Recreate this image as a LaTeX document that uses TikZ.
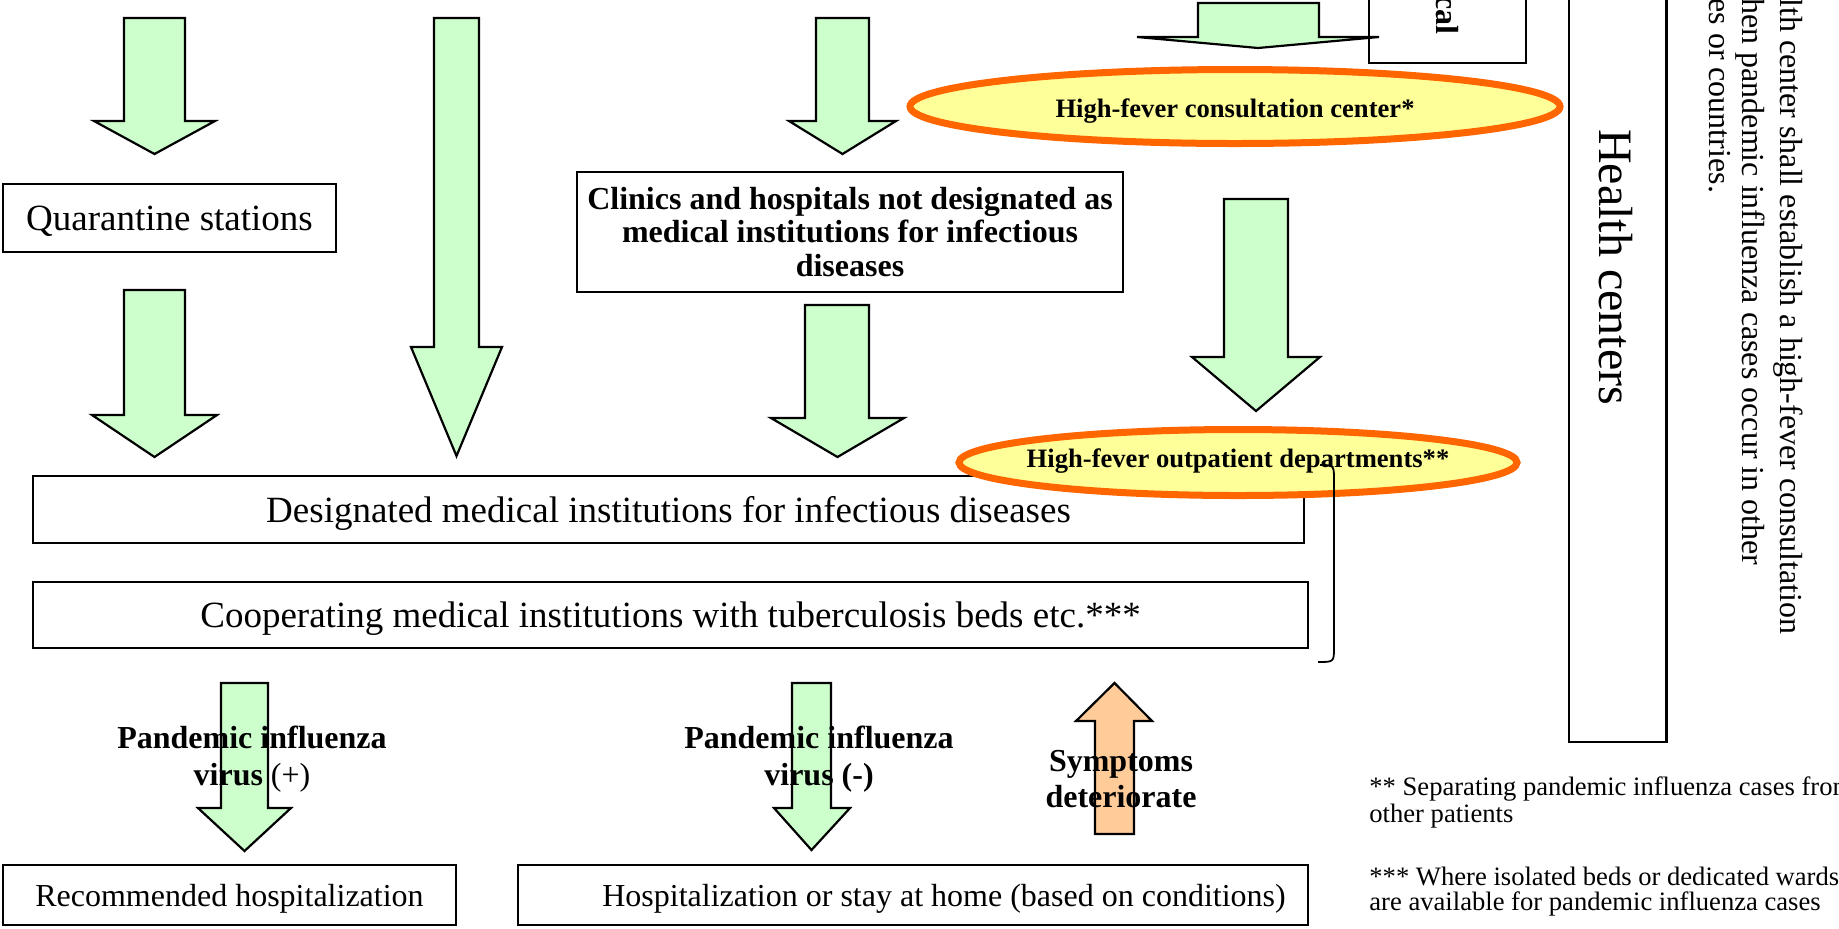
\documentclass[tikz,border=0pt]{standalone}
\usepackage{fontspec}
\setmainfont{Liberation Serif}
\usepackage{tikz}

\begin{document}
\begin{tikzpicture}[x=0.5pt,y=0.5pt,yscale=-1,
  garrow/.style={draw=black,fill={rgb,255:red,204;green,255;blue,204},line width=1.1pt,line join=miter},
  oarrow/.style={draw=black,fill={rgb,255:red,255;green,204;blue,153},line width=1.1pt,line join=miter},
  box/.style={draw=black,line width=1.3pt,inner sep=0pt},
  fever/.style={draw={rgb,255:red,255;green,102;blue,0},fill={rgb,255:red,255;green,255;blue,153},line width=3.5pt},
  big/.style={font=\fontsize{18.5}{22}\selectfont,text depth=0pt},
  mid/.style={font=\fontsize{16}{19}\selectfont,text depth=0pt},
  lbl/.style={font=\bfseries\fontsize{16}{18.3}\selectfont,align=center,inner sep=0pt},
  ftext/.style={font=\bfseries\fontsize{13.3}{16}\selectfont,inner sep=0pt},
  note/.style={font=\fontsize{16}{18}\selectfont,inner sep=0pt},
  foot/.style={font=\fontsize{13.3}{13}\selectfont,inner sep=0pt}]
\useasboundingbox (0,0) rectangle (1839,928);
\clip (0,0) rectangle (1839,928);

%Shape: Down Arrow [id:top1]
\draw [garrow] (124,18) -- (185,18) -- (185,121) -- (215,121) -- (154.5,154) -- (94,121) -- (124,121) -- cycle ;
%Shape: Down Arrow [id:quar2]
\draw [garrow] (124,290) -- (185,290) -- (185,415) -- (217,415) -- (154.5,457) -- (92,415) -- (124,415) -- cycle ;
%Shape: Down Arrow [id:long]
\draw [garrow] (434,18) -- (479,18) -- (479,347) -- (502,347) -- (456.5,456) -- (411,347) -- (434,347) -- cycle ;
%Shape: Down Arrow [id:top2]
\draw [garrow] (816,18) -- (869,18) -- (869,121) -- (896,121) -- (842.5,154) -- (789,121) -- (816,121) -- cycle ;
%Shape: Down Arrow [id:clinic2]
\draw [garrow] (805,305) -- (869,305) -- (869,418) -- (904,418) -- (837.5,457) -- (771,418) -- (805,418) -- cycle ;
%Shape: Down Arrow [id:top3]
\draw [garrow] (1198,3) -- (1319,3) -- (1319,37) -- (1379,37) -- (1258,48) -- (1137,37) -- (1198,37) -- cycle ;
%Shape: Down Arrow [id:consult2]
\draw [garrow] (1224,199) -- (1288,199) -- (1288,357) -- (1320,357) -- (1256,411) -- (1192,357) -- (1224,357) -- cycle ;
%Shape: Down Arrow [id:plus]
\draw [garrow] (221,683) -- (268,683) -- (268,808) -- (291,808) -- (244.5,851) -- (198,808) -- (221,808) -- cycle ;
%Shape: Down Arrow [id:minus]
\draw [garrow] (792,683) -- (831,683) -- (831,808) -- (850,808) -- (811.5,850) -- (774,808) -- (792,808) -- cycle ;
%Shape: Up Arrow [id:worse]
\draw [oarrow] (1095,834) -- (1134,834) -- (1134,721) -- (1152,721) -- (1114.5,683) -- (1076,721) -- (1095,721) -- cycle ;

% Text Node
\draw (169.5,218) node [box,big,minimum width=166.5pt,minimum height=34pt] (quar) {Quarantine stations};
% Text Node
\draw (850,232) node [box,align=center,minimum width=273pt,minimum height=60pt,font=\bfseries\fontsize{16}{16.6}\selectfont] (clinic) {Clinics and hospitals not designated as\\medical institutions for infectious\\diseases};
% Text Node
\draw (668.5,509.5) node [box,big,minimum width=635.5pt,minimum height=33.5pt] (desig) {Designated medical institutions for infectious diseases};
% Text Node
\draw (670.5,615) node [box,big,minimum width=637.5pt,minimum height=33pt] (coop) {Cooperating medical institutions with tuberculosis beds etc.***};
% Text Node
\draw (229.5,895) node [box,mid,minimum width=226.5pt,minimum height=30pt] (recom) {Recommended hospitalization};
% Text Node
\draw (913,895) node [box,minimum width=395pt,minimum height=30pt] (hosp) {};
\draw ([xshift=15.5pt]hosp.center) node [mid,inner sep=0pt] (hosptext) {Hospitalization or stay at home (based on conditions)};

%Shape: Box [id:local]
\draw (1447.5,21.5) node [box,minimum width=78.5pt,minimum height=41.5pt] (local) {};
\draw (1436,35) node [font=\bfseries\fontsize{16}{19}\selectfont,inner sep=0pt,rotate=-90,anchor=base east] (localtext) {cal};
%Shape: Box [id:health]
\draw (1617.75,361) node [box,minimum width=48.75pt,minimum height=381pt] (health) {};
\draw (1616,267) node [font=\fontsize{24}{28}\selectfont,inner sep=0pt,rotate=-90] (healthtext) {Health centers};

%Shape: Ellipse [id:consult]
\draw [fever] (1235,106.5) ellipse (325 and 37);
\draw (1235,111) node [ftext] (consult) {High-fever consultation center*};
%Shape: Ellipse [id:outp]
\draw [fever] (1238,462.5) ellipse (279 and 33);
\draw (1238,461) node [ftext] (outp) {High-fever outpatient departments**};
%Shape: Right Bracket
\draw [line width=0.9pt] (1320,465) .. controls (1334,465) .. (1334,481) -- (1334,647) .. controls (1334,662) .. (1318,662) ;

% Text Node
\draw (252,759) node [lbl] (pos) {Pandemic influenza\\virus {\mdseries (+)}};
% Text Node
\draw (819,759) node [lbl] (neg) {Pandemic influenza\\virus (-)};
% Text Node
\draw (1121,779) node [lbl,font=\bfseries\fontsize{16}{18}\selectfont] (worse) {Symptoms\\deteriorate};

% Text Node
\draw (1780,-2) node [note,rotate=-90,anchor=base west] (notea) {lth center shall establish a high-fever consultation};
\draw (1742,-2) node [note,rotate=-90,anchor=base west] (noteb) {hen pandemic influenza cases occur in other};
\draw (1709,-2) node [note,rotate=-90,anchor=base west] (notec) {es or countries.};

% Text Node
\draw (1369,795) node [foot,anchor=base west] (fna) {** Separating pandemic influenza cases from};
\draw (1369,822) node [foot,anchor=base west] (fnb) {other patients};
\draw (1369,885) node [foot,anchor=base west] (fnc) {*** Where isolated beds or dedicated wards};
\draw (1369,910) node [foot,anchor=base west] (fnd) {are available for pandemic influenza cases};

\end{tikzpicture}
\end{document}
